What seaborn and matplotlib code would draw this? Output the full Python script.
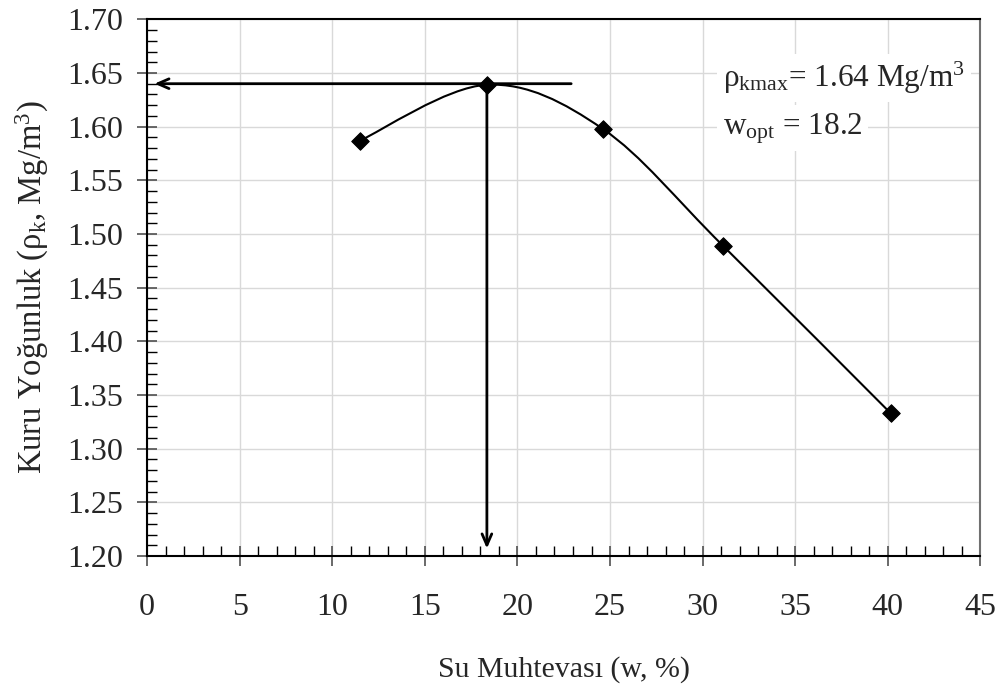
import numpy as np
import pandas as pd
import matplotlib
matplotlib.use('Agg')
import matplotlib.pyplot as plt
from matplotlib.path import Path
from matplotlib.patches import PathPatch
from matplotlib.ticker import MultipleLocator, FormatStrFormatter
import seaborn as sns

# Compaction test data
water_content = [11.5, 18.35, 24.6, 31.1, 40.15]
dry_density = [1.587, 1.639, 1.598, 1.489, 1.333]

# optimum values
w_opt = 18.35
rho_max = 1.640
arrow_h_start = 22.9
arrow_h_end = 0.4
arrow_v_end = 1.207

sns.set_style('white')
plt.rcParams['font.family'] = ['Liberation Serif', 'DejaVu Serif']
plt.rcParams['mathtext.fontset'] = 'custom'
plt.rcParams['mathtext.rm'] = 'Liberation Serif'
plt.rcParams['mathtext.it'] = 'Liberation Serif:italic'

df = pd.DataFrame({'w': water_content, 'rho': dry_density})

fig = plt.figure(figsize=(10.05, 6.87), dpi=100)
ax = fig.add_axes([0.1463, 0.1907, 0.8293, 0.7812])

# smoothed line like a spreadsheet chart (bezier through the points)
pts = np.column_stack([df['w'], df['rho']])
ext = np.vstack([pts[0], pts, pts[-1]])
verts = [tuple(pts[0])]
codes = [Path.MOVETO]
for i in range(len(pts) - 1):
    p0, p1, p2, p3 = ext[i], ext[i + 1], ext[i + 2], ext[i + 3]
    c1 = p1 + (p2 - p0) / 6
    c2 = p2 - (p3 - p1) / 6
    verts += [tuple(c1), tuple(c2), tuple(p2)]
    codes += [Path.CURVE4] * 3
ax.add_patch(PathPatch(Path(verts, codes), facecolor='none', edgecolor='black', lw=1.5, zorder=3))

sns.scatterplot(data=df, x='w', y='rho', marker='D', s=80, color='black',
                edgecolor='black', ax=ax, zorder=4, legend=False)

# arrows to the optimum
ax.annotate('', xy=(arrow_h_end, rho_max), xytext=(arrow_h_start, rho_max),
            arrowprops=dict(arrowstyle='->,head_length=0.8,head_width=0.35', color='black', lw=2,
                            shrinkA=0, shrinkB=0), zorder=5)
ax.annotate('', xy=(w_opt, arrow_v_end), xytext=(w_opt, rho_max),
            arrowprops=dict(arrowstyle='->,head_length=0.8,head_width=0.35', color='black', lw=2,
                            shrinkA=0, shrinkB=0), zorder=5)

ax.set_xlim(0, 45)
ax.set_ylim(1.20, 1.70)
ax.xaxis.set_major_locator(MultipleLocator(5))
ax.xaxis.set_minor_locator(MultipleLocator(1))
ax.yaxis.set_major_locator(MultipleLocator(0.05))
ax.yaxis.set_minor_locator(MultipleLocator(0.01))
ax.yaxis.set_major_formatter(FormatStrFormatter('%.2f'))
ax.grid(True, which='major', color='#d9d9d9', lw=1)
ax.set_axisbelow(True)

ax.tick_params(which='major', direction='inout', length=14, width=1.2, labelsize=23,
               bottom=True, left=True, color='#505050')
ax.tick_params(axis='x', which='major', pad=20)
ax.tick_params(axis='y', which='major', pad=10)
ax.tick_params(which='minor', direction='in', length=7, width=1, bottom=True, left=True, color='black')

for s in ['left', 'bottom', 'top']:
    ax.spines[s].set_color('black')
    ax.spines[s].set_linewidth(1.5)
ax.spines['right'].set_color('#707070')
ax.spines['right'].set_linewidth(1.5)

ax.set_xlabel('Su Muhtevası (w, %)', fontsize=21.5, labelpad=24)
ax.set_ylabel(r'Kuru Yoğunluk ($\mathrm{\rho_k}$, Mg/m$^3$)', fontsize=23.5, labelpad=12)

ax.text(31.1, 1.637, r'$\mathrm{\rho_{kmax}}$= 1.64 Mg/m$^3$', fontsize=22.5,
        bbox=dict(facecolor='white', edgecolor='none', pad=4), zorder=6)
ax.text(31.1, 1.593, r'w$_{\mathrm{opt}}$ = 18.2', fontsize=22.5,
        bbox=dict(facecolor='white', edgecolor='none', pad=4), zorder=6)

fig.savefig('out.png', dpi=100)
